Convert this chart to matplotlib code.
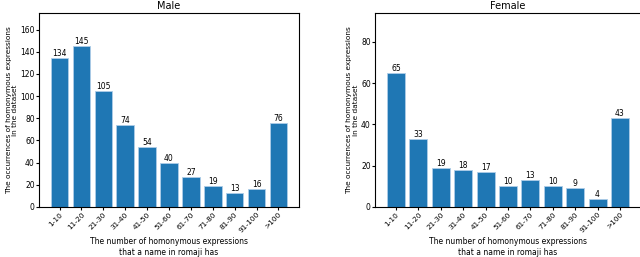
import matplotlib
matplotlib.use("Agg")
from matplotlib import pyplot as plt

categories = ['1-10', '11-20', '21-30', '31-40', '41-50', '51-60',
              '61-70', '71-80', '81-90', '91-100', '>100']
male = [134, 145, 105, 74, 54, 40, 27, 19, 13, 16, 76]
female = [65, 33, 19, 18, 17, 10, 13, 10, 9, 4, 43]

fig = plt.figure(figsize=(6.4, 2.57), dpi=100)
ax1 = fig.add_axes([39/640, 50/257, 260/640, 194/257])
ax2 = fig.add_axes([375/640, 50/257, 266/640, 194/257])

for ax, vals, title, top, yt in [(ax1, male, 'Male', 175, [0, 20, 40, 60, 80, 100, 120, 140, 160]),
                                 (ax2, female, 'Female', 94, [0, 20, 40, 60, 80])]:
    bars = ax.bar(categories, vals, width=0.8, color='#1f77b4', edgecolor='#aecde8', linewidth=0.6)
    for b, v in zip(bars, vals):
        ax.text(b.get_x() + b.get_width()/2, v, str(v), ha='center', va='bottom', fontsize=5.5)
    ax.set_ylim(0, top)
    ax.set_yticks(yt)
    ax.set_title(title, fontsize=7, pad=3)
    ax.set_xlabel('The number of homonymous expressions\nthat a name in romaji has', fontsize=5.5,
                  labelpad=2, linespacing=1.25)
    ax.set_ylabel('The occurrences of homonymous expressions\nin the dataset', fontsize=5.3,
                  labelpad=1.5, linespacing=1.1)
    ax.tick_params(axis='x', labelsize=5.3, rotation=45, length=2, pad=1)
    ax.tick_params(axis='y', labelsize=5.5, length=2, pad=1)
    for lab in ax.get_xticklabels():
        lab.set_ha('right')
        lab.set_rotation_mode('anchor')

fig.savefig('out.png', dpi=100)
